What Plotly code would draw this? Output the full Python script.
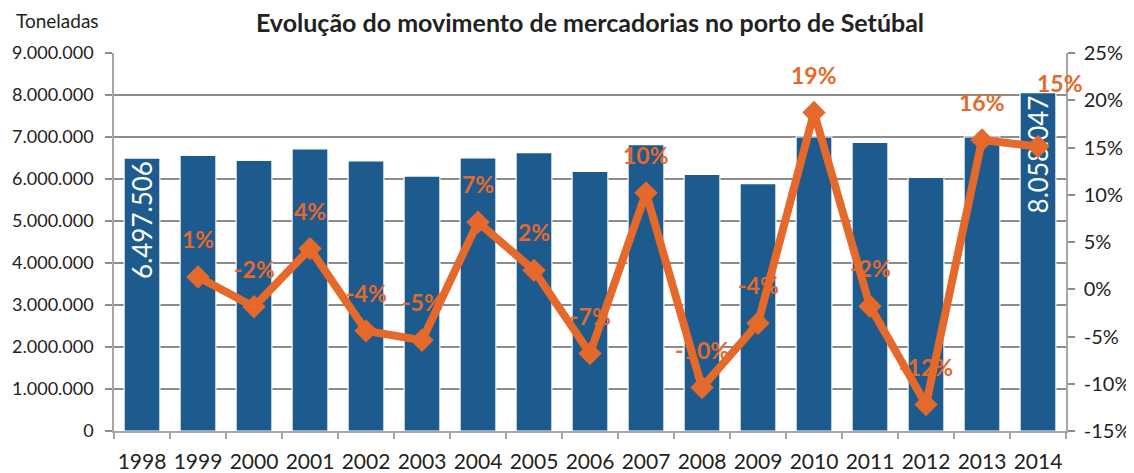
import plotly.graph_objects as go

years = [str(y) for y in range(1998, 2015)]
tons = [6497506, 6564000, 6445000, 6714000, 6430000, 6070000, 6500000, 6630000,
        6180000, 6820000, 6110000, 5890000, 7000000, 6870000, 6040000, 7000000, 8058047]
growth = [None, 1.3, -1.85, 4.3, -4.4, -5.4, 7.1, 2.0, -6.8, 10.2, -10.4, -3.6,
          18.7, -1.8, -12.2, 15.8, 15.1]
labeled_bars = ["1998", "2014"]
left_ticks = list(range(0, 9000001, 1000000))
right_ticks = list(range(-15, 26, 5))

BLUE = "#1D5A8E"
ORANGE = "#E5692A"
FONT = "Lato"

bar_text = [f"{v:,}".replace(",", ".") if y in labeled_bars else "" for y, v in zip(years, tons)]

# page body has an 8px default margin, so the figure is drawn 8px in from the top-left
W, H = 1126, 465
L, T, PW, PH = 106, 45, 952, 378

fig = go.Figure()
fig.add_trace(go.Bar(
    x=years, y=tons, marker=dict(color=BLUE, line=dict(color="white", width=1.2)),
    text=bar_text, textposition="inside", insidetextanchor="end", textangle=-90,
    constraintext="none", insidetextfont=dict(color="white", size=26, family=FONT),
    hoverinfo="skip", showlegend=False,
))
fig.add_trace(go.Scatter(
    x=years[1:], y=growth[1:], yaxis="y2", mode="lines+markers",
    line=dict(color=ORANGE, width=8),
    marker=dict(symbol="diamond", size=18, color=ORANGE),
    showlegend=False,
))

for i, g in enumerate(growth):
    if g is None:
        continue
    last = i == len(years) - 1
    fig.add_annotation(
        x=i, y=g, xref="x", yref="y2", text=f"{round(g):.0f}%", showarrow=False,
        yanchor="middle", yshift=64 if last else 38, xshift=22 if last else 0,
        font=dict(color=ORANGE, size=23, family=FONT, weight="bold"),
    )

fig.add_annotation(
    x=(6 - L) / PW, y=1 + (T - 12) / PH, xref="paper", yref="paper",
    xanchor="left", yanchor="middle", text="Toneladas", showarrow=False,
    font=dict(size=19, family=FONT, color="#222222"),
)

fig.update_layout(
    width=W, height=H,
    margin=dict(l=L, r=W - L - PW, t=T, b=H - T - PH, pad=0),
    paper_bgcolor="white", plot_bgcolor="white",
    separators=",.",
    bargap=0.36,
    font=dict(family=FONT, color="#222222", size=20),
    title=dict(text="<b>Evolução do movimento de mercadorias no porto de Setúbal</b>",
               x=582 / W, xanchor="center",
               y=1 - 15 / H, yanchor="middle",
               font=dict(size=25, family=FONT, color="#222222")),
    xaxis=dict(type="category", range=[-0.5, len(years) - 0.5], showline=True,
               linecolor="#A6A6A6", linewidth=1.5,
               ticks="outside", tickson="boundaries", ticklen=6, tickcolor="#A6A6A6",
               tickwidth=1.5, ticklabelstandoff=11, automargin=False, tickangle=0,
               tickfont=dict(size=21)),
    yaxis=dict(range=[0, 9000000], tickvals=left_ticks, tickformat=",d",
               showline=True, linecolor="#A6A6A6", linewidth=1.5,
               gridcolor="#8C8C8C", gridwidth=1.5, ticks="outside", ticklen=7,
               tickcolor="#8C8C8C", tickwidth=1.5, ticklabelstandoff=8,
               automargin=False, zeroline=False, tickfont=dict(size=18)),
    yaxis2=dict(range=[-15, 25], tickvals=right_ticks,
                ticktext=[f"{v}%" for v in right_ticks], overlaying="y",
                side="right", showline=True, linecolor="#A6A6A6", linewidth=1.5,
                showgrid=False, ticks="outside", ticklen=7, tickcolor="#8C8C8C",
                tickwidth=1.5, ticklabelstandoff=5, automargin=False, zeroline=False,
                tickfont=dict(size=20)),
)

fig.write_html("out.html")
